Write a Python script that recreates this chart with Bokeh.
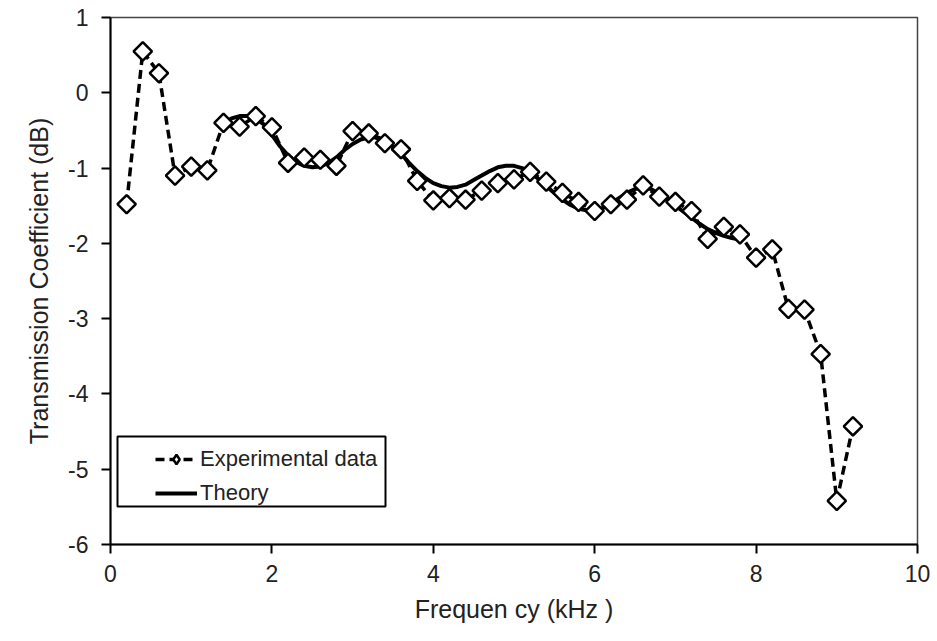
import math
from bokeh.plotting import figure
from bokeh.models import Range1d, FixedTicker, Legend, LegendItem, BoxAnnotation
from bokeh.embed import file_html
from bokeh.resources import INLINE

# Experimental data (frequency in kHz, transmission coefficient in dB)
exp_freq = [0.2, 0.4, 0.6, 0.8, 1.0, 1.2, 1.4, 1.6, 1.8, 2.0,
            2.2, 2.4, 2.6, 2.8, 3.0, 3.2, 3.4, 3.6, 3.8, 4.0,
            4.2, 4.4, 4.6, 4.8, 5.0, 5.2, 5.4, 5.6, 5.8, 6.0,
            6.2, 6.4, 6.6, 6.8, 7.0, 7.2, 7.4, 7.6, 7.8, 8.0,
            8.2, 8.4, 8.6, 8.8, 9.0, 9.2]
exp_db = [-1.48, 0.55, 0.26, -1.10, -0.98, -1.03, -0.40, -0.45, -0.31, -0.46,
          -0.93, -0.86, -0.89, -0.97, -0.51, -0.54, -0.67, -0.75, -1.17, -1.43,
          -1.40, -1.42, -1.30, -1.20, -1.15, -1.05, -1.18, -1.33, -1.45, -1.57,
          -1.48, -1.42, -1.23, -1.38, -1.45, -1.57, -1.94, -1.78, -1.88, -2.19,
          -2.08, -2.87, -2.88, -3.47, -5.42, -4.43]

# Theory curve
th_freq = [1.4, 1.5, 1.6, 1.7, 1.8, 1.9, 2.0, 2.1, 2.2, 2.3,
           2.4, 2.5, 2.6, 2.7, 2.8, 2.9, 3.0, 3.1, 3.2, 3.3,
           3.4, 3.5, 3.6, 3.7, 3.8, 3.9, 4.0, 4.1, 4.2, 4.3,
           4.4, 4.5, 4.6, 4.7, 4.8, 4.9, 5.0, 5.1, 5.2, 5.3,
           5.4, 5.5, 5.6, 5.7, 5.8, 5.9, 6.0, 6.1, 6.2, 6.3,
           6.4, 6.5, 6.6, 6.7, 6.8, 6.9, 7.0, 7.1, 7.2, 7.3,
           7.4, 7.5, 7.6, 7.7, 7.8]
th_db = [-0.40, -0.34, -0.31, -0.31, -0.34, -0.42, -0.56, -0.71, -0.83, -0.92,
         -0.97, -0.99, -0.98, -0.93, -0.86, -0.76, -0.68, -0.62, -0.59, -0.59,
         -0.63, -0.71, -0.81, -0.93, -1.04, -1.13, -1.20, -1.24, -1.26, -1.25,
         -1.22, -1.16, -1.10, -1.04, -0.99, -0.97, -0.97, -1.00, -1.06, -1.14,
         -1.24, -1.33, -1.42, -1.49, -1.54, -1.56, -1.56, -1.53, -1.47, -1.40,
         -1.33, -1.28, -1.26, -1.28, -1.34, -1.42, -1.50, -1.58, -1.66, -1.74,
         -1.81, -1.86, -1.90, -1.93, -1.95]

x_ticks = [0, 2, 4, 6, 8, 10]
y_ticks = [-6, -5, -4, -3, -2, -1, 0, 1]

FONT = "Liberation Sans"
TXT = "#222222"

p = figure(width=937, height=641, output_backend="svg", toolbar_location=None,
           x_range=Range1d(0, 10), y_range=Range1d(-6, 1),
           min_border_left=110, min_border_right=20,
           min_border_top=17, min_border_bottom=97)
p.background_fill_color = "white"
p.border_fill_color = "white"
p.outline_line_color = "#444444"
p.outline_line_width = 1.5
p.xgrid.visible = False
p.ygrid.visible = False

for ax in (p.xaxis[0], p.yaxis[0]):
    ax.axis_line_color = "black"
    ax.axis_line_width = 2
    ax.major_tick_line_color = "black"
    ax.major_tick_line_width = 2
    ax.major_tick_out = 9
    ax.major_tick_in = 0
    ax.minor_tick_line_color = None
    ax.major_label_text_font = FONT
    ax.major_label_text_font_size = "23px"
    ax.major_label_text_color = TXT
    ax.axis_label_text_font = FONT
    ax.axis_label_text_font_size = "25px"
    ax.axis_label_text_font_style = "normal"
    ax.axis_label_text_color = TXT

p.xaxis.ticker = FixedTicker(ticks=x_ticks)
p.yaxis.ticker = FixedTicker(ticks=y_ticks)
p.yaxis.major_label_overrides = {t: str(t) for t in y_ticks}
p.xaxis.major_label_overrides = {t: str(t) for t in x_ticks}
p.xaxis.axis_label = "Frequen cy (kHz )"
p.yaxis.axis_label = "Transmission Coefficient (dB)"
p.xaxis.major_label_standoff = 11
p.yaxis.major_label_standoff = 13
p.xaxis.axis_label_standoff = 10
p.yaxis.axis_label_standoff = 12

theory = p.line(th_freq, th_db, line_color="black", line_width=4)
exp_line = p.line(exp_freq, exp_db, line_color="black", line_width=3.5,
                  line_dash="9 5")
# key marker for the legend: drawn under the first experimental point
key_pts = p.scatter(exp_freq[:1], exp_db[:1], marker="diamond", size=13,
                    line_color="black", line_width=2.5, fill_color="white")
exp_pts = p.scatter(exp_freq, exp_db, marker="square", size=13,
                    angle=math.pi / 4, line_color="black", line_width=2.5,
                    fill_color="white")

# legend frame
frame = BoxAnnotation(left=7, right=275, bottom=38, top=108,
                      left_units="screen", right_units="screen",
                      bottom_units="screen", top_units="screen",
                      fill_color="white", fill_alpha=1.0,
                      line_color="black", line_alpha=1.0, line_width=2)
p.add_layout(frame)

legend = Legend(items=[
    LegendItem(label="Experimental data", renderers=[exp_line, key_pts]),
    LegendItem(label="Theory", renderers=[theory]),
], location=(45, 38))
legend.border_line_color = None
legend.background_fill_color = None
legend.background_fill_alpha = 0.0
legend.label_text_font = FONT
legend.label_text_font_size = "22px"
legend.label_text_color = TXT
legend.glyph_width = 42
legend.glyph_height = 24
legend.label_height = 24
legend.padding = 7
legend.spacing = 8
legend.label_standoff = 3
legend.margin = 0
p.add_layout(legend, "center")

open("out.html", "w").write(file_html(p, INLINE))
